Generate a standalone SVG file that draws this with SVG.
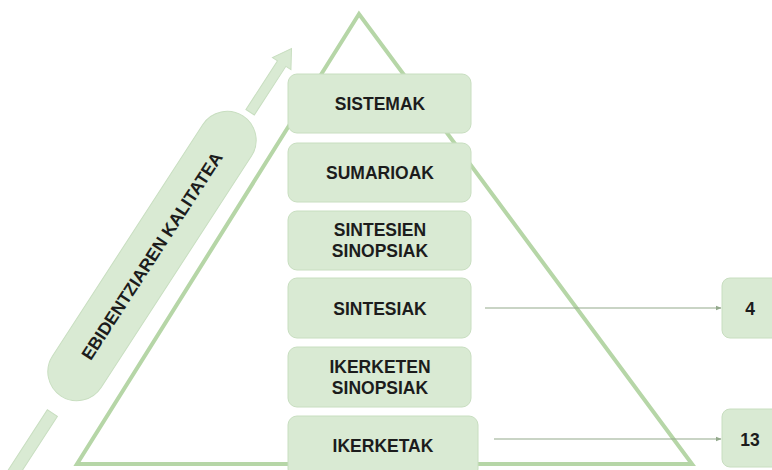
<svg xmlns="http://www.w3.org/2000/svg" width="772" height="470" viewBox="0 0 772 470">
  <defs>
    <style>
      .box { fill: #d9ead3; stroke: #c8dec0; stroke-width: 1; }
      .lbl { font-family: "Liberation Sans", Arial, sans-serif; font-weight: bold; font-size: 17.5px; fill: #1c1c1c; text-anchor: middle; }
      .tri { fill: none; stroke: #b6d6a7; stroke-width: 4; stroke-linejoin: miter; }
      .conn { stroke: #93a98c; stroke-width: 1.2; fill: none; marker-end: url(#arr); }
      .deco { fill: #d9ead3; stroke: #c8dec0; stroke-width: 1; }
    </style>
    <marker id="arr" viewBox="0 0 10 10" refX="9" refY="5" markerWidth="6" markerHeight="6" markerUnits="userSpaceOnUse" orient="auto">
      <path d="M0,1 L10,5 L0,9 Z" fill="#93a98c"/>
    </marker>
  </defs>
  <rect width="772" height="470" fill="#ffffff"/>

  <g id="pyramid">
    <polygon class="tri" points="359,14 77,464 692,464"/>
  </g>

  <g id="quality-arrow" transform="translate(152,256) rotate(-57)">
    <rect class="deco" x="-272" y="-4" width="86" height="12"/>
    <rect class="deco" x="-167" y="-29" width="334" height="58" rx="29" ry="29"/>
    <path class="deco" d="M174,-1 L232,-1 L232,-7 L250,4 L232,15 L232,9 L174,9 Z"/>
    <text class="lbl" x="0" y="6">EBIDENTZIAREN KALITATEA</text>
  </g>

  <g id="sistemak">
    <rect class="box" x="288" y="74" width="183" height="59" rx="9"/>
    <text class="lbl" x="380" y="110">SISTEMAK</text>
  </g>
  <g id="sumarioak">
    <rect class="box" x="288" y="143" width="183" height="59" rx="9"/>
    <text class="lbl" x="380" y="179">SUMARIOAK</text>
  </g>
  <g id="sintesien-sinopsiak">
    <rect class="box" x="288" y="211" width="183" height="59" rx="9"/>
    <text class="lbl" x="380" y="236">SINTESIEN</text>
    <text class="lbl" x="380" y="257">SINOPSIAK</text>
  </g>
  <g id="sintesiak">
    <rect class="box" x="288" y="278" width="183" height="60" rx="9"/>
    <text class="lbl" x="380" y="315">SINTESIAK</text>
  </g>
  <g id="ikerketen-sinopsiak">
    <rect class="box" x="288" y="347" width="183" height="60" rx="9"/>
    <text class="lbl" x="380" y="373">IKERKETEN</text>
    <text class="lbl" x="380" y="394">SINOPSIAK</text>
  </g>
  <g id="ikerketak">
    <rect class="box" x="288" y="416" width="190" height="62" rx="9"/>
    <text class="lbl" x="383" y="452">IKERKETAK</text>
  </g>

  <g id="n4">
    <rect class="box" x="722" y="278" width="62" height="60" rx="8"/>
    <text class="lbl" x="750" y="315">4</text>
  </g>
  <g id="n13">
    <rect class="box" x="722" y="409" width="62" height="58" rx="8"/>
    <text class="lbl" x="750" y="446">13</text>
  </g>

  <g id="connectors">
    <line class="conn" x1="485" y1="308" x2="721" y2="308"/>
    <line class="conn" x1="494" y1="439" x2="721" y2="439"/>
  </g>
</svg>
